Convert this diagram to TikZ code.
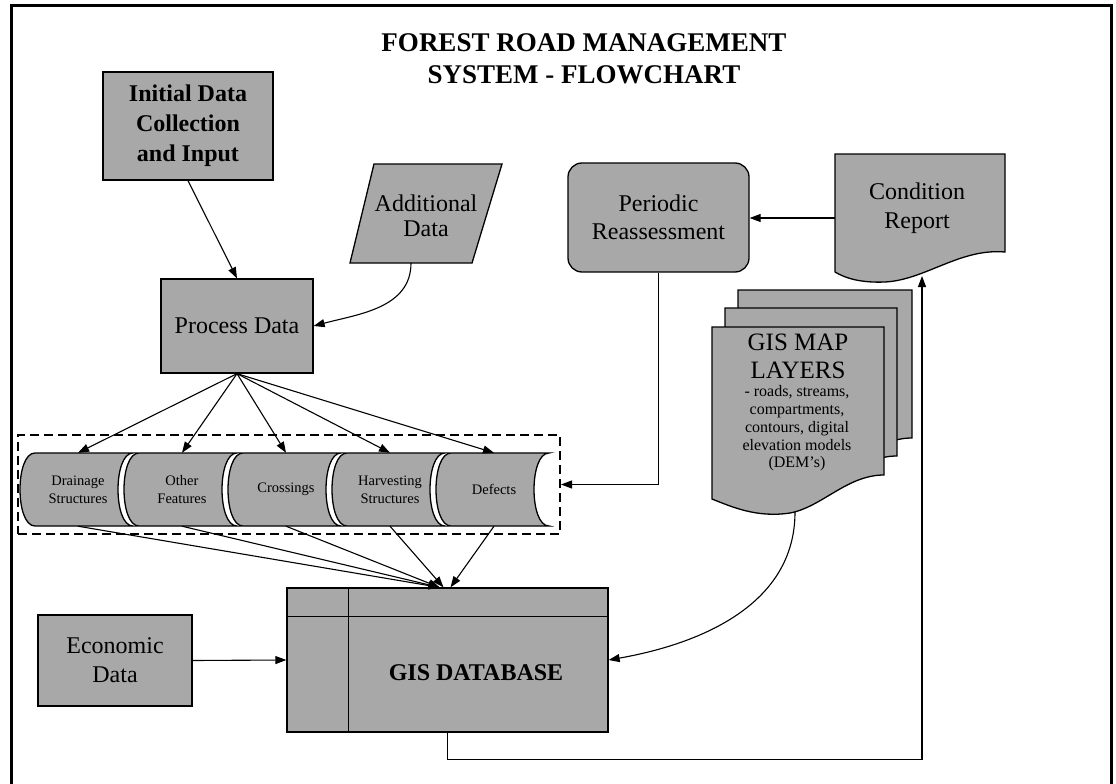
\documentclass[tikz,border=0pt]{standalone}
\usepackage{fontspec}
\setmainfont{Liberation Serif}
\usetikzlibrary{arrows.meta}
\definecolor{dotgray}{gray}{0.66}
\tikzset{
  box/.style={draw, line width=1.3pt, fill=dotgray, inner sep=0pt, align=center},
  shapeline/.style={draw, line width=1.3pt, fill=dotgray},
  flow/.style={line width=1.1pt, -{Triangle[length=11pt,width=8pt]}},
  plain/.style={line width=1.1pt},
  drumtext/.style={inner sep=0pt, minimum height=73pt, align=center, font=\fontsize{14.5}{18}\selectfont},
  bodytext/.style={font=\fontsize{24}{29}\selectfont}
}
\begin{document}
\begin{tikzpicture}[x=1pt, y=-1pt]
            \useasboundingbox (0,0) rectangle (1116,784);
            % frame
            \draw[line width=3pt] (11,784) -- (11,6) -- (1111,6) -- (1111,784);
            \node[align=center, font=\fontsize{27}{32}\selectfont\bfseries] (title) at (584,59) {FOREST ROAD MANAGEMENT\\SYSTEM - FLOWCHART};
            % input boxes
            \node[box, minimum width=170pt, minimum height=108pt, font=\fontsize{24}{30}\selectfont\bfseries] (init) at (188,126) {Initial Data\\Collection\\and Input};
            \node[box, bodytext, minimum width=152pt, minimum height=94pt] (process) at (237,326) {Process Data};
            \path[shapeline] (374,164) -- (502,164) -- (472,263) -- (350,263) -- cycle;
            \node[align=center, font=\fontsize{24}{25}\selectfont] (addl) at (426,215.5) {Additional\\Data};
            \coordinate (addlbot) at (411,263);
            \node[box, bodytext, minimum width=154pt, minimum height=91pt] (econ) at (115,660.5) {Economic\\Data};
            % stored data
            \node[draw, dashed, dash pattern=on 9pt off 5pt, line width=2pt, minimum width=542pt, minimum height=99pt, inner sep=0pt] (store) at (289,484.5) {};
            \path[shapeline] (35,453) -- (133,453) .. controls (113,453) and (113,526) .. (133,526) -- (35,526) .. controls (15,526) and (15,453) .. (35,453) -- cycle;
            \path[shapeline] (139,453) -- (237,453) .. controls (217,453) and (217,526) .. (237,526) -- (139,526) .. controls (119,526) and (119,453) .. (139,453) -- cycle;
            \path[shapeline] (243,453) -- (341,453) .. controls (321,453) and (321,526) .. (341,526) -- (243,526) .. controls (223,526) and (223,453) .. (243,453) -- cycle;
            \path[shapeline] (347,453) -- (445,453) .. controls (425,453) and (425,526) .. (445,526) -- (347,526) .. controls (327,526) and (327,453) .. (347,453) -- cycle;
            \path[shapeline] (451,453) -- (549,453) .. controls (529,453) and (529,526) .. (549,526) -- (451,526) .. controls (431,526) and (431,453) .. (451,453) -- cycle;
            \node[drumtext] (drain) at (78,489.5) {Drainage\\Structures};
            \node[drumtext] (other) at (182,489.5) {Other\\Features};
            \node[drumtext] (cross) at (286,489.5) {Crossings};
            \node[drumtext] (harv) at (390,489.5) {Harvesting\\Structures};
            \node[drumtext] (defect) at (494,489.5) {Defects};
            % database
            \node[box, minimum width=321pt, minimum height=144pt] (db) at (447.5,660) {};
            \draw[line width=1.3pt] ([xshift=62pt]db.north west) -- ([xshift=62pt]db.south west);
            \draw[line width=1.3pt] ([yshift=-29pt]db.north west) -- ([yshift=-29pt]db.north east);
            \node[font=\fontsize{24}{29}\selectfont\bfseries] (dbtext) at (476,673) {GIS DATABASE};
            % reassessment and report
            \node[box, bodytext, rounded corners=14pt, minimum width=181pt, minimum height=109pt, font=\fontsize{24}{28}\selectfont] (periodic) at (658.5,217.5) {Periodic\\Reassessment};
            \path[shapeline] (835,154) -- (1005,154) -- (1005,252) .. controls (960,248) and (925,280) .. (885,282) .. controls (860,283) and (845,278) .. (835,272) -- cycle;
            \node[bodytext, align=center, minimum width=170pt, minimum height=118pt, inner sep=0pt] (cond) at (920,213) {};
            \node[bodytext, align=center] (condtext) at (917,208.5) {Condition\\Report};
            \coordinate (condbot) at (922,276);
            % map layers
            \begin{scope}[shift={(738,290)}]
                \path[shapeline] (0,0) -- (174,0) -- (174,148) .. controls (137,148) and (112,180) .. (79,186) .. controls (46,191) and (20,180) .. (0,172) -- cycle;
            \end{scope}
            \begin{scope}[shift={(725,308)}]
                \path[shapeline] (0,0) -- (172,0) -- (172,148) .. controls (135,148) and (110,180) .. (78,186) .. controls (45,191) and (20,180) .. (0,172) -- cycle;
            \end{scope}
            \begin{scope}[shift={(712,327)}]
                \path[shapeline] (0,0) -- (172,0) -- (172,148) .. controls (135,148) and (110,180) .. (78,186) .. controls (45,191) and (20,180) .. (0,172) -- cycle;
            \end{scope}
            \node[align=center, font=\fontsize{25}{28}\selectfont] (layers) at (798,356) {GIS MAP\\LAYERS};
            \node[align=center, font=\fontsize{16}{17.75}\selectfont] (layersnote) at (797,428.5) {- roads, streams,\\compartments,\\contours, digital\\elevation models\\(DEM's)};
            \coordinate (layersbot) at (795,512);
            % connectors
            \draw[flow] (init.south) -- (process.north);
            \draw[flow] (addlbot) to[out=-90, in=15] (process.east);
            \draw[flow] (process.south) -- (drain.north);
            \draw[flow] (process.south) -- (other.north);
            \draw[flow] (process.south) -- (cross.north);
            \draw[flow] (process.south) -- (harv.north);
            \draw[flow] (process.south) -- (defect.north);
            \draw[flow] (drain.south) -- ([xshift=-8pt]db.north);
            \draw[flow] (other.south) -- ([xshift=-8pt]db.north);
            \draw[flow] (cross.south) -- ([xshift=-8pt]db.north);
            \draw[flow] (harv.south) -- ([xshift=-4pt]db.north);
            \draw[flow] (defect.south) -- ([xshift=3pt]db.north);
            \draw[flow] (econ.east) -- (db.west);
            \draw[flow] (layersbot) to[out=-90, in=10] (db.east);
            \draw[flow] ([yshift=-5pt]cond.west) -- ([yshift=-0.5pt]periodic.east);
            \draw[flow] (periodic.south) |- (store.east);
            \draw[flow] (db.south) -- ++(0,27) -| (condbot);
        \end{tikzpicture}
\end{document}
